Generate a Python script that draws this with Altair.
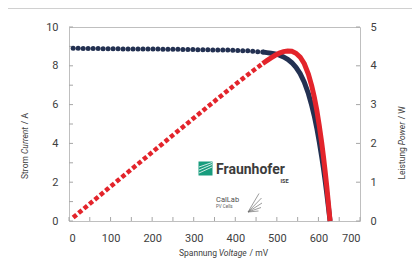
import altair as alt
import pandas as pd

# ---------------- data ----------------
V_SPARSE = [10, 22, 34, 46, 58, 70, 82, 94, 106, 118, 130, 142, 154, 166, 178,
            190, 202, 214, 226, 238, 250, 262, 274, 286, 298, 310, 322, 334,
            346, 358, 370, 382, 394, 406, 418, 430, 442, 454, 466]
I_SPARSE = [8.90, 8.90, 8.89, 8.89, 8.89, 8.89, 8.88, 8.88, 8.88, 8.88, 8.87,
            8.87, 8.87, 8.87, 8.86, 8.86, 8.86, 8.86, 8.85, 8.85, 8.85, 8.85,
            8.84, 8.84, 8.84, 8.83, 8.83, 8.83, 8.82, 8.82, 8.81, 8.81, 8.80,
            8.79, 8.78, 8.77, 8.75, 8.73, 8.71]
P_SPARSE = [0.089, 0.196, 0.302, 0.409, 0.516, 0.622, 0.728, 0.835, 0.941,
            1.048, 1.153, 1.260, 1.366, 1.472, 1.577, 1.683, 1.790, 1.896,
            2.000, 2.106, 2.213, 2.319, 2.422, 2.528, 2.634, 2.737, 2.843,
            2.949, 3.052, 3.158, 3.260, 3.365, 3.467, 3.571, 3.670, 3.771,
            3.868, 3.963, 4.059]

V_DENSE = [466, 476, 486, 496, 506, 516, 526, 536, 546, 556, 566, 576, 584,
           590, 596, 602, 608, 612, 616, 620, 624, 627, 628]
I_DENSE = [8.71, 8.68, 8.65, 8.61, 8.55, 8.46, 8.33, 8.16, 7.92, 7.60, 7.16,
           6.56, 5.95, 5.42, 4.80, 4.08, 3.30, 2.72, 2.10, 1.44, 0.72, 0.18, 0.0]
P_DENSE = [4.059, 4.132, 4.204, 4.271, 4.326, 4.365, 4.382, 4.374, 4.324,
           4.226, 4.053, 3.779, 3.475, 3.198, 2.861, 2.456, 2.006, 1.665,
           1.294, 0.893, 0.449, 0.113, 0.0]

X_LABELS = [0, 100, 200, 300, 400, 500, 600, 700]
X_TICKS = [0, 50, 100, 150, 200, 250, 300, 350, 400, 450, 500, 550, 600, 650, 700]
I_LABELS = [0, 2, 4, 6, 8, 10]
I_TICKS = [0, 1, 2, 3, 4, 5, 6, 7, 8, 9, 10]
P_LABELS = [0, 1, 2, 3, 4, 5]
P_TICKS = [0, 1, 2, 3, 4, 5]

# ---------------- styling ----------------
NAVY = "#233152"
RED = "#e3242b"
FONT = "Roboto"
TXT = "#404040"
TICK = "#a6a6a6"
W, H = 291, 194

sparse = pd.DataFrame({"V": V_SPARSE, "I": I_SPARSE, "P": P_SPARSE})
dense = pd.DataFrame({"V": V_DENSE, "I": I_DENSE, "P": P_DENSE})
dummy = pd.DataFrame({"_": [0]})

x_axis = alt.Axis(values=X_LABELS, ticks=False, tickSize=0, domain=False,
                  grid=False, labelPadding=11, title=None)
x_scale = alt.Scale(domain=[0, 700], nice=False, zero=True)
def xenc():
    return alt.X("V:Q", scale=x_scale, axis=x_axis)

yi = alt.Y("I:Q", scale=alt.Scale(domain=[0, 10], nice=False),
           axis=alt.Axis(orient="left", values=I_LABELS, ticks=False, tickSize=0,
                         domain=False, grid=False, labelPadding=11, title=None))
yp = alt.Y("P:Q", scale=alt.Scale(domain=[0, 5], nice=False),
           axis=alt.Axis(orient="right", values=P_LABELS, ticks=False, tickSize=0,
                         domain=False, grid=False, labelPadding=10, title=None))

# inner tick marks
bottom_ticks = alt.Chart(pd.DataFrame({"V": X_TICKS})).mark_rule(
    color=TICK, strokeWidth=1).encode(x=xenc(), y=alt.value(H - 4), y2=alt.value(H))
left_ticks = alt.Chart(pd.DataFrame({"I": I_TICKS})).mark_rule(
    color=TICK, strokeWidth=1).encode(y=yi, x=alt.value(0), x2=alt.value(4))
right_ticks = alt.Chart(pd.DataFrame({"P": P_TICKS})).mark_rule(
    color=TICK, strokeWidth=1).encode(y=yp, x=alt.value(W - 4), x2=alt.value(W))

cur_dots = alt.Chart(sparse).mark_circle(color=NAVY, size=25, opacity=1).encode(
    x=xenc(), y=yi)
cur_line = alt.Chart(dense).mark_line(color=NAVY, strokeWidth=5).encode(
    x=xenc(), y=yi)
pow_dash = alt.Chart(sparse).mark_line(color=RED, strokeWidth=4.5,
                                       strokeDash=[4.5, 2.5]).encode(x=xenc(), y=yp)
pow_line = alt.Chart(dense).mark_line(color=RED, strokeWidth=5).encode(
    x=xenc(), y=yp)

current = alt.layer(left_ticks, cur_dots, cur_line)
power = alt.layer(right_ticks, pow_dash, pow_line)

# ---------------- text helpers ----------------
CW = {"S": .593, "p": .547, "a": .53, "n": .55, "u": .549, "g": .559, " ": .248,
      "m": .874, "V": .636, "o": .557, "l": .237, "t": .327, "e": .53, "/": .41,
      "C": .638, "r": .337, "L": .526, "i": .237, "s": .516, "P": .63, "w": .743,
      "W": .87, "A": .652}
def tw(s, size):
    return sum(CW.get(c, .55) for c in s) * size

def txt(text, x, y, size, **kw):
    return alt.Chart(dummy).mark_text(text=text, font=FONT, fontSize=size,
                                      **kw).encode(x=alt.value(x), y=alt.value(y))

def htitle(pieces, size, center_x, y):
    total = tw(" ".join(p for p, _ in pieces), size)
    pos = center_x - total / 2
    out = []
    for p, style in pieces:
        out.append(txt(p, pos, y, size, fontStyle=style, color=TXT,
                       align="left", baseline="middle"))
        pos += tw(p + " ", size)
    return out

def vtitle(pieces, size, center_y, x):
    total = tw(" ".join(p for p, _ in pieces), size)
    start = center_y + total / 2
    out = []
    for p, style in pieces:
        out.append(txt(p, x, start, size, fontStyle=style, color=TXT, align="left",
                       baseline="middle", angle=270))
        start -= tw(p + " ", size)
    return out

TS = 8.5
titles = []
titles += htitle([("Spannung", "normal"), ("Voltage", "italic"), ("/ mV", "normal")],
                 TS, 154.5, 226)
titles += vtitle([("Strom", "normal"), ("Current", "italic"), ("/ A", "normal")], TS, 119, -44)
titles += vtitle([("Leistung", "normal"), ("Power", "italic"), ("/ W", "normal")], TS, 116, 332.5)

# ---------------- logo (decoration) ----------------
green = alt.Chart(dummy).mark_rect(color="#179c7d").encode(
    x=alt.value(129.5), x2=alt.value(143.5), y=alt.value(134.5), y2=alt.value(148.5))
stripes = [alt.Chart(dummy).mark_rule(color="white", strokeWidth=0.8).encode(
    x=alt.value(130), y=alt.value(y0), x2=alt.value(143), y2=alt.value(y1))
    for y0, y1 in [(146, 140), (143, 137.5), (140, 135.5)]]
fan = [alt.Chart(dummy).mark_rule(color="#707070", strokeWidth=0.7).encode(
    x=alt.value(179), y=alt.value(185), x2=alt.value(ex), y2=alt.value(ey))
    for ex, ey in [(190, 166.5), (192.5, 171), (193, 176), (192, 180.5), (189.5, 184)]]
logo = [green] + stripes + fan + [
    txt("Fraunhofer", 147, 146.5, 14, fontWeight="bold", color="#3c3c3c",
        align="left", baseline="alphabetic"),
    txt("ISE", 219.5, 156, 5.5, fontWeight="bold", color="#3c3c3c",
        align="right", baseline="alphabetic"),
    txt("CalLab", 147, 175, 7.5, color="#505050", align="left", baseline="alphabetic"),
    txt("PV Cells", 147, 181, 4.5, color="#606060", align="left", baseline="alphabetic"),
]

frame = alt.Chart(dummy).mark_rule(color="#d0d0d0", strokeWidth=1).encode(
    x=alt.value(-61), x2=alt.value(343), y=alt.value(-18.5))

chart = alt.layer(
    frame, *logo, *titles, bottom_ticks, current, power
).resolve_scale(y="independent").properties(
    width=W, height=H,
    autosize=alt.AutoSizeParams(type="none"),
    padding={"left": 61, "top": 19, "right": 52, "bottom": 42},
    background="white",
).configure_view(stroke="#bfbfbf", strokeWidth=1).configure_axis(
    labelFont=FONT, labelFontSize=11, labelColor=TXT)

chart.save("out.html", embed_options={"renderer": "svg", "actions": False})
